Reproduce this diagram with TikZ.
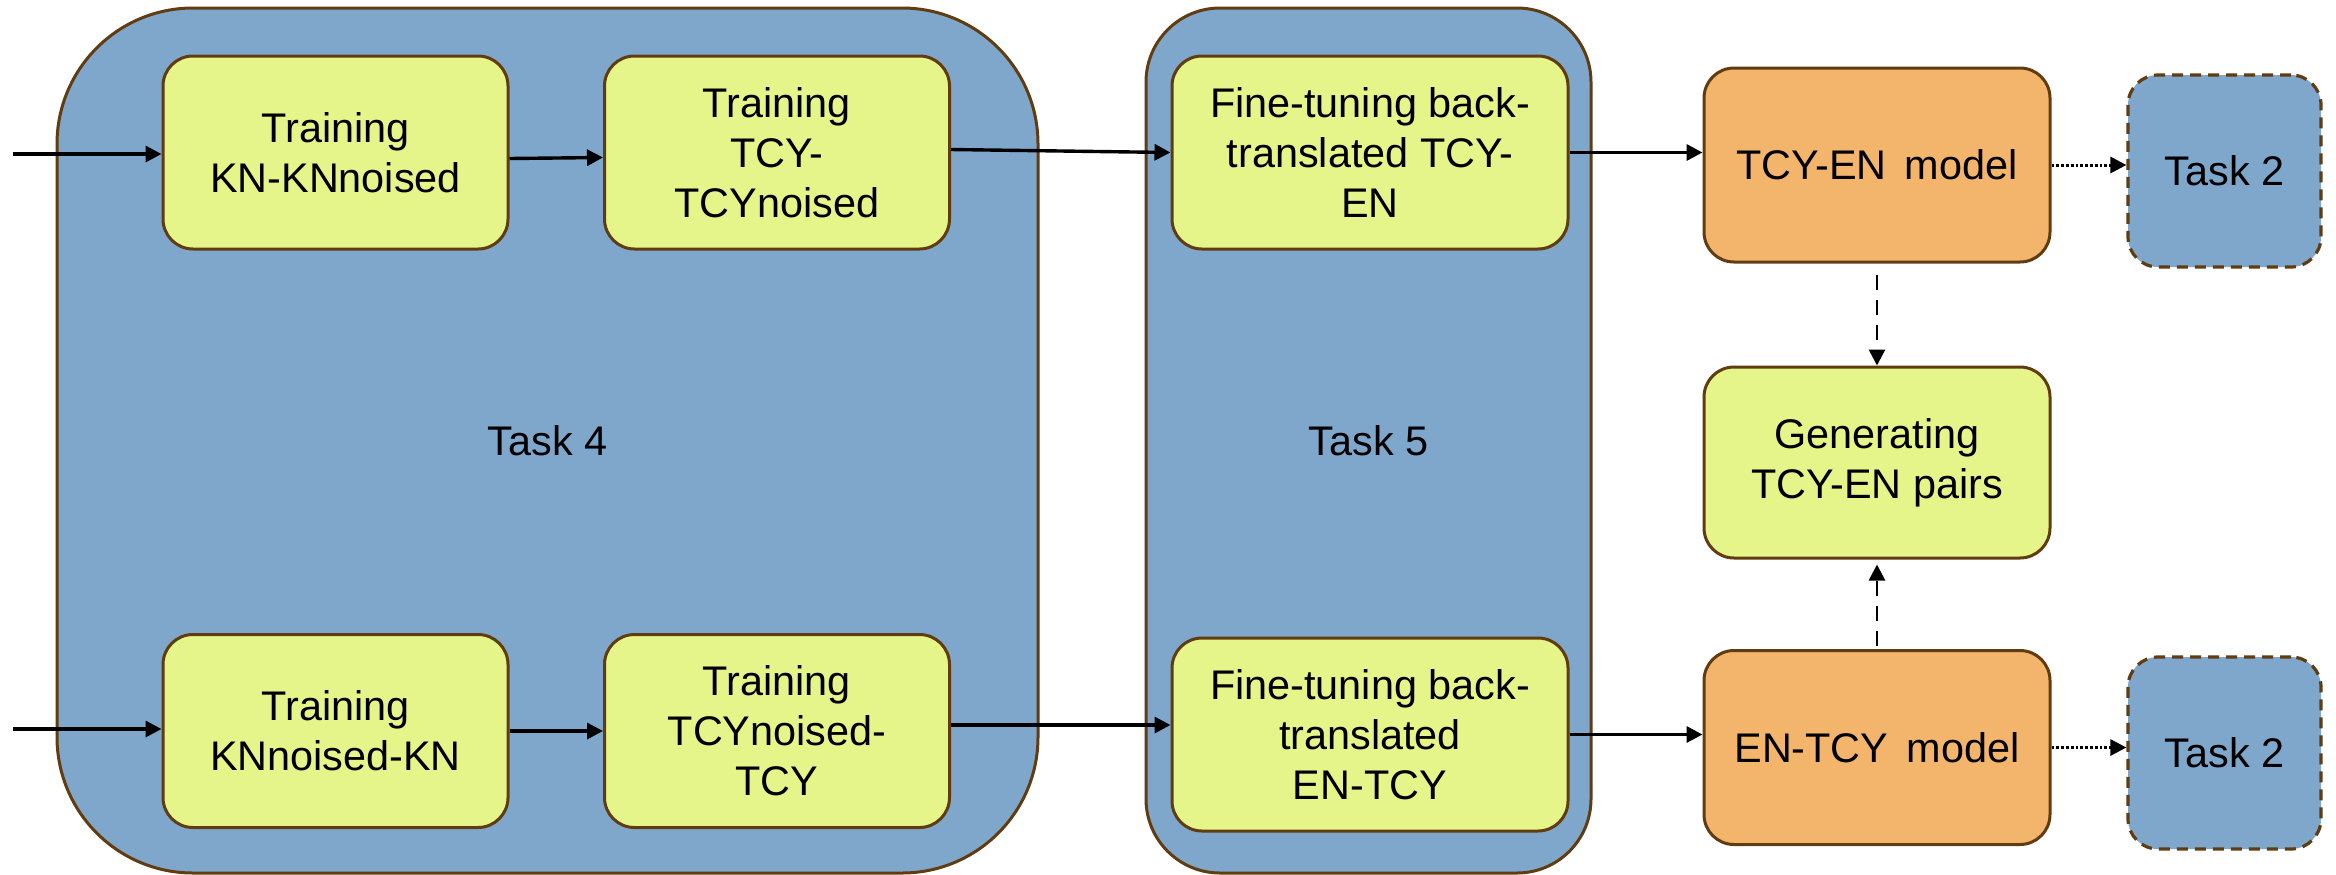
\documentclass[tikz,border=0pt]{standalone}
\usepackage{fontspec}
\setmainfont{Liberation Sans}
\usetikzlibrary{arrows.meta}
\definecolor{bluefill}{RGB}{126,167,203}
\definecolor{yellowfill}{RGB}{230,245,138}
\definecolor{orangefill}{RGB}{243,180,108}
\definecolor{brownline}{RGB}{97,60,16}
\begin{document}
\begin{tikzpicture}[x=0.5pt,y=-0.5pt,
  every node/.style={font=\fontsize{20.7pt}{25pt}\selectfont, align=center, inner sep=0pt, text=black},
  group/.style={draw=brownline, line width=1.5pt, fill=bluefill},
  box/.style={draw=brownline, line width=1.5pt, rounded corners=15pt, fill=yellowfill, minimum width=172.5pt, minimum height=96.5pt},
  ftbox/.style={box, minimum width=198pt},
  modelbox/.style={box, fill=orangefill, minimum width=173pt, minimum height=97pt},
  taskbox/.style={draw=brownline, line width=1.6pt, dash pattern=on 5.5pt off 3.5pt, rounded corners=15pt, fill=bluefill, minimum width=96.5pt, minimum height=96pt},
  arr/.style={-{Triangle[length=8pt,width=8pt]}, line width=1.7pt},
  dotarr/.style={arr, line width=1.5pt, dash pattern=on 1.4pt off 1pt},
  dasharr/.style={arr, line width=1.4pt, dash pattern=on 7.5pt off 5pt}
]
\useasboundingbox (0,0) rectangle (2336,874);
% groups
\node[group, minimum width=490.5pt, minimum height=432.5pt, rounded corners=68pt] (t4) at (547.5,440.5) {Task 4};
\node[group, minimum width=222.5pt, minimum height=432.5pt, rounded corners=37pt] (t5) at (1368.5,440.5) {Task 5};
% task 4 boxes
\node[box] (kn1) at (335.5,152.5) {Training\\KN-KNnoised};
\node[box] (tcy1) at (777,152.5) {Training\\TCY-\\TCYnoised};
\node[box] (kn2) at (335.5,731) {Training\\KNnoised-KN};
\node[box] (tcy2) at (777,731) {Training\\TCYnoised-\\TCY};
% task 5 boxes
\node[ftbox] (ft1) at (1370,152.5) {Fine-tuning back-\\translated TCY-\\EN};
\node[ftbox] (ft2) at (1370,734.5) {Fine-tuning back-\\translated\\EN-TCY};
% right side
\node[modelbox] (m1) at (1877,165) {TCY-EN\, model};
\node[box, minimum width=173pt, minimum height=95.5pt] (gen) at (1877,462.5) {Generating\\TCY-EN pairs};
\node[modelbox] (m2) at (1877,747.5) {EN-TCY\, model};
\node[taskbox] (ta) at (2224.5,171) {Task 2};
\node[taskbox] (tb) at (2224.5,753) {Task 2};
% inputs
\coordinate (in1) at (13,154);
\coordinate (in2) at (13,729);
% connectors
\draw[arr] (in1) -- (in1 -| kn1.west);
\draw[arr] (in2) -- (in2 -| kn2.west);
\draw[arr] ([yshift=-3pt]kn1.east) -- ([yshift=-2.5pt]tcy1.west);
\draw[arr] (kn2.east) -- (tcy2.west);
\draw[arr] ([yshift=1.5pt]tcy1.east) -- (ft1.west);
\draw[arr] ([yshift=3pt]tcy2.east) -- ([yshift=3pt]tcy2.east -| ft2.west);
\draw[arr] (ft1.east) -- (ft1.east -| m1.west);
\draw[arr] (ft2.east) -- (ft2.east -| m2.west);
\draw[dotarr] (m1.east) -- (m1.east -| ta.west);
\draw[dotarr] (m2.east) -- (m2.east -| tb.west);
\draw[dasharr, shorten <=5.5pt] (m1.south) -- (gen.north);
\draw[dasharr, shorten >=2.5pt, shorten <=1.5pt] (m2.north) -- (gen.south);
\end{tikzpicture}
\end{document}
